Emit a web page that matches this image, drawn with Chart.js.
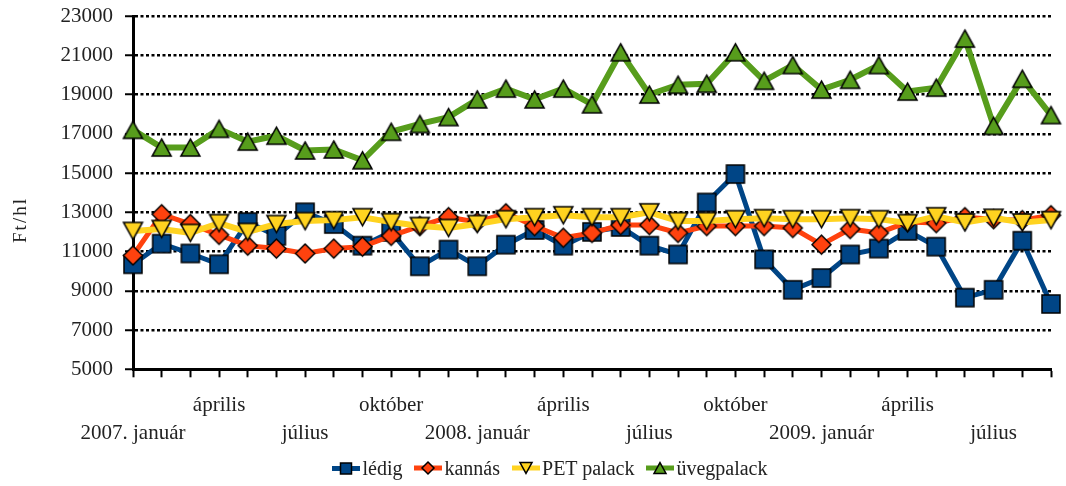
<!DOCTYPE html>
<html>
<head>
<meta charset="utf-8">
<script src="https://cdn.jsdelivr.net/npm/chart.js@4.4.1/dist/chart.umd.min.js"></script>
<style>
  html, body { margin: 0; padding: 0; background: #fff; }
  #wrap { position: relative; width: 1066px; height: 486px; }
  #legend {
    position: absolute; left: 17px; width: 1066px; top: 456px; height: 24px;
    display: flex; justify-content: center; align-items: center;
    font-family: "Liberation Serif", "Times New Roman", serif; font-size: 20px; color: #222;
  }
  #legend .item { display: flex; align-items: center; margin: 0 6px; }
  #legend canvas { margin-right: 2px; }
</style>
</head>
<body>
<div id="wrap"><canvas id="chart"></canvas><div id="legend"></div></div>
<script>
// Months, 2007. január .. 2009. szeptember
const months = [
  '2007. január', 'február', 'március', 'április', 'május', 'június', 'július', 'augusztus', 'szeptember', 'október', 'november', 'december',
  '2008. január', 'február', 'március', 'április', 'május', 'június', 'július', 'augusztus', 'szeptember', 'október', 'november', 'december',
  '2009. január', 'február', 'március', 'április', 'május', 'június', 'július', 'augusztus', 'szeptember'
];

// tick labels: upper row and lower row (index -> text)
const tickTop = { 3: 'április', 9: 'október', 15: 'április', 21: 'október', 27: 'április' };
const tickBottom = { 0: '2007. január', 6: 'július', 12: '2008. január', 18: 'július', 24: '2009. január', 30: 'július' };

const seriesNames = ['lédig', 'kannás', 'PET palack', 'üvegpalack'];

const ledig = [10350, 11400, 10900, 10350, 12500, 11800, 13000, 12400, 11300, 12000, 10250, 11100,
  10250, 11350, 12100, 11300, 12000, 12250, 11300, 10850, 13500, 14950, 10600, 9050,
  9650, 10850, 11150, 12050, 11250, 8650, 9050, 11550, 8330];

const kannas = [10800, 12900, 12400, 11850, 11300, 11150, 10900, 11150, 11250, 11800, 12300, 12750,
  12500, 12950, 12300, 11700, 11950, 12350, 12350, 11950, 12300, 12300, 12300, 12200,
  11350, 12150, 11950, 12500, 12450, 12750, 12650, 12600, 12850];

const petPalack = [12050, 12150, 11950, 12450, 12000, 12400, 12550, 12600, 12750, 12500, 12300, 12200,
  12400, 12650, 12750, 12850, 12750, 12750, 13000, 12550, 12550, 12650, 12700, 12650,
  12650, 12700, 12650, 12450, 12800, 12480, 12720, 12480, 12600];

const uvegpalack = [17200, 16300, 16300, 17250, 16600, 16900, 16150, 16200, 15650, 17100, 17500, 17850,
  18750, 19300, 18750, 19300, 18500, 21150, 19000, 19500, 19550, 21150, 19700, 20500,
  19250, 19750, 20500, 19150, 19350, 21850, 17400, 19800, 17950];

const colors = ['#004586', '#ff420e', '#ffd320', '#579d1c'];
const shapes = ['square', 'diamond', 'down', 'up'];

const FONT = '"Liberation Serif", "Times New Roman", serif';

// marker image, optionally with a line segment behind it (for the legend)
function markerCanvas(shape, fill, size, lineColor) {
  const w = lineColor ? 28 : size + 4;
  const h = size + 4;
  const c = document.createElement('canvas');
  c.width = w; c.height = h;
  const ctx = c.getContext('2d');
  const cx = w / 2, cy = h / 2, s = size / 2;
  if (lineColor) {
    ctx.strokeStyle = lineColor;
    ctx.lineWidth = 5;
    ctx.beginPath(); ctx.moveTo(0, cy); ctx.lineTo(w, cy); ctx.stroke();
  }
  ctx.beginPath();
  if (shape === 'square') {
    ctx.rect(cx - s, cy - s, size, size);
  } else if (shape === 'diamond') {
    ctx.moveTo(cx, cy - s); ctx.lineTo(cx + s, cy); ctx.lineTo(cx, cy + s); ctx.lineTo(cx - s, cy);
  } else if (shape === 'up') {
    ctx.moveTo(cx, cy - s * 0.9); ctx.lineTo(cx + s, cy + s * 0.9); ctx.lineTo(cx - s, cy + s * 0.9);
  } else {
    ctx.moveTo(cx, cy + s * 0.9); ctx.lineTo(cx + s, cy - s * 0.9); ctx.lineTo(cx - s, cy - s * 0.9);
  }
  ctx.closePath();
  ctx.fillStyle = fill;
  ctx.fill();
  ctx.lineWidth = 1.5;
  ctx.strokeStyle = '#000';
  ctx.stroke();
  return c;
}

const markerSizes = [18, 19, 19, 19];
const legendSizes = [11, 12, 12, 12];
const pointImgs = shapes.map((s, i) => markerCanvas(s, colors[i], markerSizes[i]));

// html legend: line + marker, then the name
const legendBox = document.getElementById('legend');
seriesNames.forEach((name, i) => {
  const item = document.createElement('div');
  item.className = 'item';
  item.appendChild(markerCanvas(shapes[i], colors[i], legendSizes[i], colors[i]));
  const txt = document.createElement('span');
  txt.textContent = name;
  item.appendChild(txt);
  legendBox.appendChild(item);
});

const allSeries = [ledig, kannas, petPalack, uvegpalack];
const lineWidths = [5, 5, 6, 6];

const datasets = allSeries.map((values, i) => ({
  label: seriesNames[i],
  data: values,
  borderColor: colors[i],
  backgroundColor: colors[i],
  borderWidth: lineWidths[i],
  pointStyle: pointImgs[i],
  pointRadius: 9,
  pointHoverRadius: 9,
  tension: 0,
  clip: false,
  order: 4 - i
}));

// y axis title drawn by hand so it sits where the original has it
const yTitle = {
  id: 'yTitle',
  afterDraw(chart) {
    const ctx = chart.ctx;
    ctx.save();
    ctx.translate(21, 220);
    ctx.rotate(-Math.PI / 2);
    ctx.font = '19px ' + FONT;
    ctx.letterSpacing = '2px';
    ctx.fillStyle = '#222';
    ctx.textAlign = 'center';
    ctx.textBaseline = 'middle';
    ctx.fillText('Ft/hl', 0, 0);
    ctx.restore();
  }
};

new Chart(document.getElementById('chart'), {
  type: 'line',
  data: { labels: months, datasets: datasets },
  plugins: [yTitle],
  options: {
    responsive: true,
    maintainAspectRatio: false,
    animation: false,
    layout: { padding: { left: 0, right: 10, top: 16, bottom: 24 } },
    plugins: {
      tooltip: { enabled: false },
      legend: { display: false }
    },
    scales: {
      x: {
        offset: false,
        grid: { drawOnChartArea: false, drawTicks: true, tickLength: 8, tickColor: '#000', tickWidth: 2 },
        border: { display: true, color: '#000', width: 3 },
        ticks: {
          autoSkip: false,
          maxRotation: 0,
          minRotation: 0,
          padding: 14,
          color: '#222',
          font: { family: FONT, size: 21, lineHeight: 1.35 },
          callback: (v, i) => [tickTop[i] || '', tickBottom[i] || '']
        }
      },
      y: {
        min: 5000,
        max: 23000,
        afterFit(scale) {
          scale.width = 133;
          scale.paddingTop = 0;
          scale.paddingBottom = 0;
        },
        grid: { color: '#000', lineWidth: 2.5, tickColor: '#000', tickWidth: 2, tickLength: 8 },
        border: { display: true, color: '#000', width: 3, dash: [3, 2.5] },
        ticks: {
          stepSize: 2000,
          padding: 12,
          color: '#222',
          font: { family: FONT, size: 21 },
          callback: v => String(v)
        }
      }
    }
  }
});
</script>
</body>
</html>
